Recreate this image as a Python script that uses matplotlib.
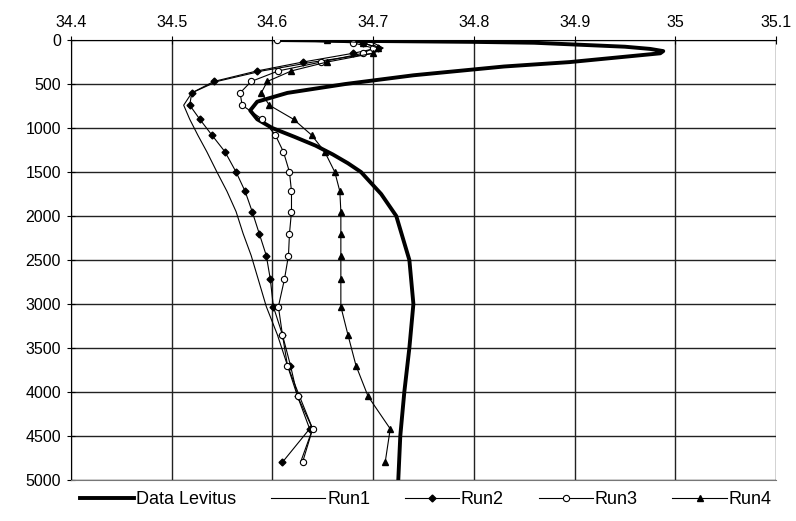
import matplotlib.pyplot as plt

plt.rcParams['font.family'] = ['Liberation Sans', 'DejaVu Sans']

# Levitus climatology (depth in m, salinity)
lev_depth = [0, 10, 20, 30, 50, 75, 100, 125, 150, 200, 250, 300, 400, 500, 600,
             700, 800, 900, 1000, 1100, 1200, 1300, 1400, 1500, 1750, 2000, 2500,
             3000, 3500, 4000, 4500, 5000]
lev_sal = [34.61, 34.70, 34.80, 34.86, 34.90, 34.95, 34.975, 34.988, 34.985, 34.94,
           34.895, 34.83, 34.74, 34.672, 34.615, 34.585, 34.578, 34.585, 34.600,
           34.622, 34.643, 34.660, 34.675, 34.688, 34.708, 34.723, 34.736, 34.740,
           34.736, 34.731, 34.727, 34.725]

# model levels
run_depth = [0, 30, 90, 150, 250, 350, 470, 600, 740, 900, 1080, 1270, 1500, 1720,
             1950, 2200, 2450, 2720, 3030, 3350, 3700, 4050, 4420, 4800]
run1 = [34.68, 34.70, 34.71, 34.70, 34.64, 34.59, 34.545, 34.52, 34.512, 34.518,
        34.526, 34.535, 34.545, 34.555, 34.564, 34.571, 34.579, 34.586, 34.594,
        34.605, 34.615, 34.627, 34.640, 34.628]
run2 = [34.68, 34.69, 34.705, 34.68, 34.63, 34.585, 34.542, 34.52, 34.518, 34.528,
        34.54, 34.553, 34.564, 34.573, 34.58, 34.587, 34.594, 34.598, 34.601,
        34.61, 34.618, 34.625, 34.637, 34.61]
run3 = [34.605, 34.68, 34.70, 34.69, 34.648, 34.606, 34.579, 34.568, 34.57, 34.59,
        34.603, 34.611, 34.617, 34.619, 34.619, 34.617, 34.616, 34.612, 34.606,
        34.61, 34.615, 34.625, 34.64, 34.63]
run4 = [34.654, 34.69, 34.705, 34.70, 34.654, 34.619, 34.595, 34.589, 34.597, 34.621,
        34.639, 34.652, 34.662, 34.667, 34.668, 34.668, 34.668, 34.668, 34.668,
        34.675, 34.683, 34.695, 34.717, 34.712]

x_ticks = [34.4, 34.5, 34.6, 34.7, 34.8, 34.9, 35.0, 35.1]
x_labels = ['34.4', '34.5', '34.6', '34.7', '34.8', '34.9', '35', '35.1']
y_ticks = list(range(0, 5001, 500))

fig = plt.figure(figsize=(7.96, 5.21), dpi=100)
ax = fig.add_axes([0.089, 0.079, 0.886, 0.844])

ax.plot(lev_sal, lev_depth, color='black', lw=2.8, label='Data Levitus', zorder=3)
ax.plot(run1, run_depth, color='black', lw=0.8, label='Run1', zorder=4)
ax.plot(run2, run_depth, color='black', lw=0.8, marker='D', ms=3.5,
        label='Run2', zorder=4)
ax.plot(run3, run_depth, color='black', lw=0.8, marker='o', ms=4.5,
        mfc='white', mew=0.8, label='Run3', zorder=4)
ax.plot(run4, run_depth, color='black', lw=0.8, marker='^', ms=5,
        label='Run4', zorder=4)

ax.set_xlim(34.4, 35.1)
ax.set_ylim(5000, 0)
ax.xaxis.tick_top()
ax.set_xticks(x_ticks)
ax.set_xticklabels(x_labels)
ax.set_yticks(y_ticks)
ax.tick_params(axis='both', direction='inout', length=6, width=0.8,
               labelsize=11.5, colors='black', pad=4)
ax.grid(True, color='#222222', lw=1.0)
ax.set_axisbelow(True)

ax.spines['right'].set_visible(False)
ax.spines['bottom'].set_linestyle((0, (2, 1)))
ax.spines['bottom'].set_color('#777777')
for s in ['left', 'top']:
    ax.spines[s].set_color('black')

fig.legend(loc='lower left', bbox_to_anchor=(0.085, 0.0, 0.90, 0.07),
           mode='expand', ncol=5, frameon=False, fontsize=13,
           handlelength=3.0, handletextpad=0.1, borderaxespad=0.3)

fig.savefig('out.png', dpi=100)
